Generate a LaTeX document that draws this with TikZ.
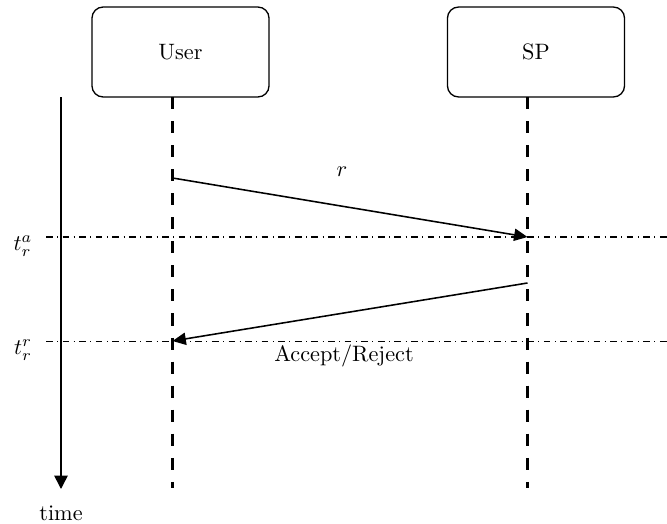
\documentclass[tikz,border=0pt]{standalone}
\usetikzlibrary{arrows.meta}
\begin{document}
\begin{tikzpicture}[x=0.449pt,y=-0.449pt,
  actor/.style={draw,line width=0.6pt,rounded corners=5pt,minimum width=79.5pt,minimum height=40.4pt,inner sep=0pt},
  lifeline/.style={line width=1.3pt,dash pattern=on 5.4pt off 5.4pt},
  msg/.style={line width=0.7pt,-{Triangle[length=6pt,width=5.5pt]}},
  timeline/.style={line width=0.45pt,dash dot},
  lbl/.style={inner sep=0pt}]
\useasboundingbox (0,0) rectangle (667,524);
\node[actor] (user) at (180.5,52) {User};
\node[actor] (sp) at (536,52) {SP};
% lifeline ends
\coordinate (ut) at (172.5,97);
\coordinate (ub) at (172.5,488);
\coordinate (st) at (527.5,97);
\coordinate (sb) at (527.5,488);
\draw[lifeline] (ut) -- (ub);
\draw[lifeline] (st) -- (sb);
% time axis
\coordinate (tt) at (61,97);
\node[lbl] (time) at (61,513) {time};
\coordinate (tb) at (61,489);
\draw[line width=0.7pt,-{Triangle[length=6pt,width=6pt]}] (tt) -- (tb);
% horizontal time lines
\node[lbl] (ta) at (23,246) {$t_r^a$};
\node[lbl] (tr) at (23,350) {$t_r^r$};
\coordinate (tal) at (46,237);
\coordinate (tar) at (667,237);
\coordinate (trl) at (46,341);
\coordinate (trr) at (667,341);
\draw[timeline] (tal) -- (tar);
\draw[timeline] (trl) -- (trr);
% messages
\coordinate (m1s) at (172.5,178);
\coordinate (m1e) at (527.5,237);
\coordinate (m2s) at (527.5,283);
\coordinate (m2e) at (172.5,341);
\draw[msg] (m1s) -- (m1e);
\draw[msg] (m2s) -- (m2e);
\node[lbl] (rl) at (342,172) {$r$};
\node[lbl] (ar) at (344,356) {Accept/Reject};
\end{tikzpicture}
\end{document}
